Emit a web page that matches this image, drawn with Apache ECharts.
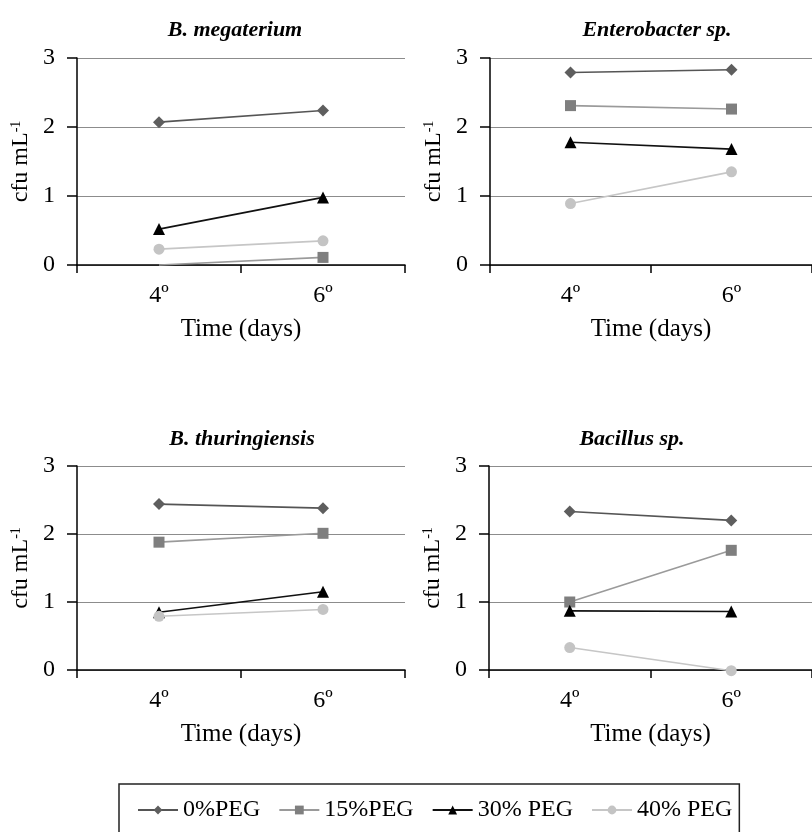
<!DOCTYPE html>
<html>
<head>
<meta charset="utf-8">
<script src="https://cdn.jsdelivr.net/npm/echarts@6/dist/echarts.min.js"></script>
<style>
  html, body { margin: 0; padding: 0; background: #fff; }
  #chart { width: 812px; height: 832px; }
</style>
</head>
<body>
<div id="chart"></div>
<script>
// categories and labels
const categories = ['4º', '6º'];
const panelTitles = ['B. megaterium', 'Enterobacter sp.', 'B. thuringiensis', 'Bacillus sp.'];
const seriesNames = ['0%PEG', '15%PEG', '30% PEG', '40% PEG'];
const yTicks = [0, 1, 2, 3];

// values, one array per panel and PEG level
const megaterium0 = [2.07, 2.24];
const megaterium15 = [0, 0.11];
const megaterium30 = [0.52, 0.98];
const megaterium40 = [0.23, 0.35];

const enterobacter0 = [2.79, 2.83];
const enterobacter15 = [2.31, 2.26];
const enterobacter30 = [1.78, 1.68];
const enterobacter40 = [0.89, 1.35];

const thuringiensis0 = [2.44, 2.38];
const thuringiensis15 = [1.88, 2.01];
const thuringiensis30 = [0.85, 1.15];
const thuringiensis40 = [0.79, 0.89];

const bacillus0 = [2.33, 2.2];
const bacillus15 = [1.0, 1.76];
const bacillus30 = [0.87, 0.86];
const bacillus40 = [0.33, -0.01];

const panelData = [
  [megaterium0, megaterium15, megaterium30, megaterium40],
  [enterobacter0, enterobacter15, enterobacter30, enterobacter40],
  [thuringiensis0, thuringiensis15, thuringiensis30, thuringiensis40],
  [bacillus0, bacillus15, bacillus30, bacillus40]
];
// marker not shown in the original: [panel, series, point]
const hiddenPoints = [[0, 1, 0]];

const FONT = '"Liberation Serif", "Times New Roman", serif';

// grid boxes (pixels)
const grids = [
  { left: 77, top: 58, width: 328, height: 207 },
  { left: 490, top: 58, width: 330, height: 207 },
  { left: 77, top: 466, width: 328, height: 204 },
  { left: 489, top: 466, width: 330, height: 204 }
];
const titlePos = [
  { x: 230, y: 14 },
  { x: 652, y: 14 },
  { x: 237, y: 423 },
  { x: 627, y: 423 }
];

const seriesStyle = [
  { symbol: 'diamond', size: 12, color: '#5e5e5e', line: '#555555' },
  { symbol: 'rect', size: 11, color: '#7f7f7f', line: '#9a9a9a' },
  { symbol: 'triangle', size: 12, color: '#000000', line: '#111111' },
  { symbol: 'circle', size: 11, color: '#c4c4c4', line: '#c6c6c6' }
];

const chart = echarts.init(document.getElementById('chart'));

const xAxes = grids.map((g, i) => ({
  type: 'category',
  gridIndex: i,
  data: categories,
  boundaryGap: true,
  name: 'Time (days)',
  nameLocation: 'middle',
  nameGap: 52,
  nameTextStyle: { fontFamily: FONT, fontSize: 25, color: '#000' },
  axisLine: { lineStyle: { color: '#000', width: 1.5 } },
  axisTick: { show: true, inside: false, length: 8, lineStyle: { color: '#000', width: 1.5 } },
  axisLabel: { fontFamily: FONT, fontSize: 24, color: '#000', margin: 19 },
  splitLine: { show: false }
}));

const yAxes = grids.map((g, i) => ({
  type: 'value',
  gridIndex: i,
  min: yTicks[0],
  max: yTicks[yTicks.length - 1],
  interval: 1,
  name: '{a|cfu mL}{s|-1}',
  nameLocation: 'middle',
  nameRotate: 90,
  nameGap: 44,
  nameTextStyle: {
    color: '#000',
    rich: {
      a: { fontFamily: FONT, fontSize: 24, color: '#000' },
      s: { fontFamily: FONT, fontSize: 14, color: '#000', verticalAlign: 'top' }
    }
  },
  axisLine: { show: true, lineStyle: { color: '#000', width: 1.5 } },
  axisTick: { show: true, inside: false, length: 10, lineStyle: { color: '#000', width: 1.5 } },
  axisLabel: { fontFamily: FONT, fontSize: 24, color: '#000', margin: 22 },
  splitLine: { show: true, lineStyle: { color: '#8c8c8c', width: 1.2 } }
}));

const series = [];
panelData.forEach((panel, p) => {
  panel.forEach((vals, s) => {
    const st = seriesStyle[s];
    series.push({
      name: seriesNames[s],
      type: 'line',
      xAxisIndex: p,
      yAxisIndex: p,
      symbol: st.symbol,
      symbolSize: st.size,
      clip: false,
      data: vals.map((v, k) => {
        const hide = hiddenPoints.some(h => h[0] === p && h[1] === s && h[2] === k);
        return hide ? { value: v, symbolSize: 0 } : v;
      }),
      itemStyle: { color: st.color },
      lineStyle: { color: st.line, width: 1.6 },
      emphasis: { disabled: true },
      z: 2 + s
    });
  });
});

chart.setOption({
  animation: false,
  backgroundColor: '#fff',
  title: panelTitles.map((t, i) => ({
    text: t,
    left: titlePos[i].x,
    top: titlePos[i].y,
    textAlign: 'center',
    textStyle: { fontFamily: FONT, fontSize: 22, fontWeight: 'bold', fontStyle: 'italic', color: '#000' }
  })),
  legend: {
    data: seriesNames,
    left: 119,
    top: 784,
    orient: 'horizontal',
    itemWidth: 40,
    itemHeight: 11,
    itemGap: 18,
    padding: [14, 7, 30, 18],
    borderColor: '#222',
    borderWidth: 1.5,
    textStyle: { fontFamily: FONT, fontSize: 24, color: '#000' }
  },
  grid: grids.map(g => ({ left: g.left, top: g.top, width: g.width, height: g.height, containLabel: false })),
  xAxis: xAxes,
  yAxis: yAxes,
  series: series
});
</script>
</body>
</html>
